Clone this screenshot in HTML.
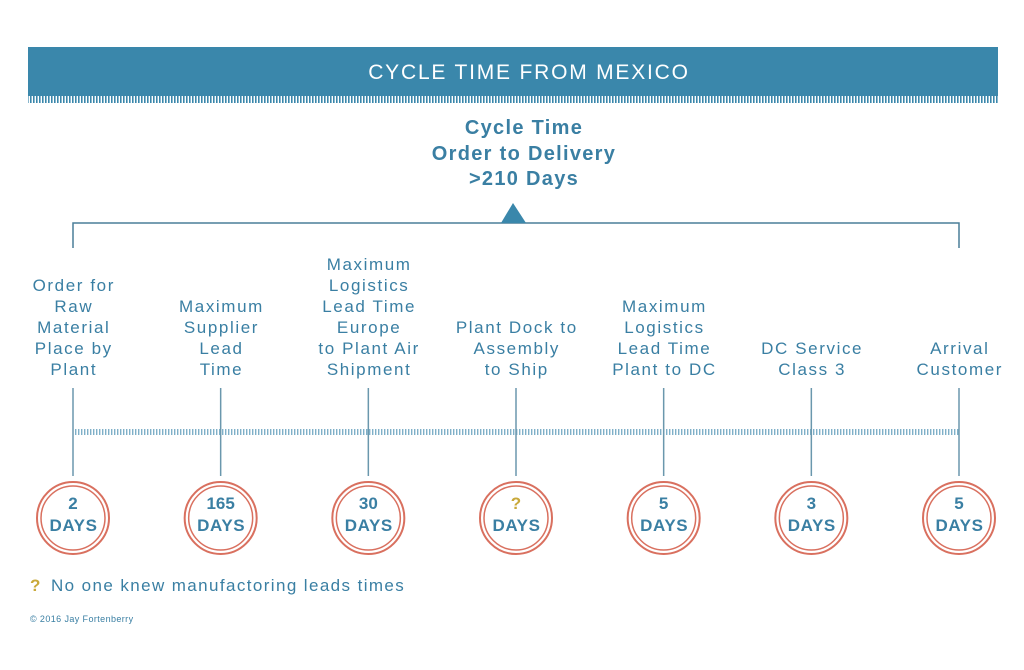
<!DOCTYPE html>
<html><head><meta charset="utf-8"><style>
html,body{margin:0;padding:0;background:#fff;}
svg{display:block;font-family:"Liberation Sans",sans-serif;}
</style></head><body>
<svg id="c" width="1024" height="670" viewBox="0 0 1024 670" xmlns="http://www.w3.org/2000/svg">
<defs>
<pattern id="tk" width="3" height="8" patternUnits="userSpaceOnUse"><rect width="1.6" height="8" fill="#3a87ab"/></pattern>
<pattern id="tk2" width="3" height="6" patternUnits="userSpaceOnUse"><rect width="1.4" height="6" fill="#7fb0c8"/></pattern>
</defs>
<rect x="28" y="47" width="970" height="49" fill="#3a87ab"/>
<rect x="28" y="96" width="970" height="7" fill="url(#tk)"/>
<text x="529" y="79" text-anchor="middle" fill="#fff" font-size="21" letter-spacing="1.8">CYCLE TIME FROM MEXICO</text>
<g fill="#3a7fa3" font-size="20" font-weight="bold" letter-spacing="1.3" text-anchor="middle">
<text x="524" y="134">Cycle Time</text><text x="524" y="160">Order to Delivery</text><text x="524" y="185">&gt;210 Days</text></g>
<path d="M73 248V223H959V248" fill="none" stroke="#4a7f99" stroke-width="1.5"/>
<polygon points="513,203 501,223 526,223" fill="#3a87ab"/>
<rect x="73" y="429" width="886" height="6" fill="url(#tk2)"/>
<g id="steps"></g>
<text x="30" y="591" fill="#c9a93a" font-size="17" font-weight="bold">?</text>
<text x="51" y="591" fill="#3a7fa3" font-size="17" letter-spacing="1.4">No one knew manufactoring leads times</text>
<text x="30" y="622" fill="#3a7fa3" font-size="9" letter-spacing="0.4">© 2016 Jay Fortenberry</text>
</svg>
<script>
const labels=[["Order for","Raw","Material","Place by","Plant"],["Maximum","Supplier","Lead","Time"],["Maximum","Logistics","Lead Time","Europe","to Plant Air","Shipment"],["Plant Dock to","Assembly","to Ship"],["Maximum","Logistics","Lead Time","Plant to DC"],["DC Service","Class 3"],["Arrival","Customer"]];
const days=["2","165","30","?","5","3","5"];
const NS="http://www.w3.org/2000/svg";
const g=document.getElementById('steps');
function xAt(i){return 73+i*(959-73)/(days.length-1);}
function mk(t,a,p){const e=document.createElementNS(NS,t);for(const k in a)e.setAttribute(k,a[k]);p.appendChild(e);return e;}
days.forEach((d,i)=>{
  const x=xAt(i);
  const grp=mk('g',{},g);
  
  
  const ln=mk('line',{x1:x,x2:x,y1:388,y2:476,stroke:'#6a97ad','stroke-width':1.5},grp);
  
  
  const lab=labels[i];
  lab.forEach((s,j)=>{
    const t=mk('text',{x:x+0.8,y:375-(lab.length-1-j)*21,'text-anchor':'middle',fill:'#3a7fa3','font-size':17,'letter-spacing':1.6},grp);
    t.textContent=s;
    
    
  });
  const c1=mk('circle',{cx:x,cy:518,r:36,fill:'#fff',stroke:'#d9705f','stroke-width':2},grp);
  
  
  const c2=mk('circle',{cx:x,cy:518,r:32,fill:'none',stroke:'#d9705f','stroke-width':1.5},grp);
  
  
  const v=mk('text',{x:x,y:509,'text-anchor':'middle',fill:d==='?'?'#c9a93a':'#3a7fa3','font-size':17,'font-weight':'bold'},grp);
  v.textContent=d;
  
  
  const u=mk('text',{x:x+0.5,y:531,'text-anchor':'middle',fill:'#3a7fa3','font-size':17,'font-weight':'bold','letter-spacing':0.6},grp);
  u.textContent='DAYS';
  
  
});
</script>
</body></html>
